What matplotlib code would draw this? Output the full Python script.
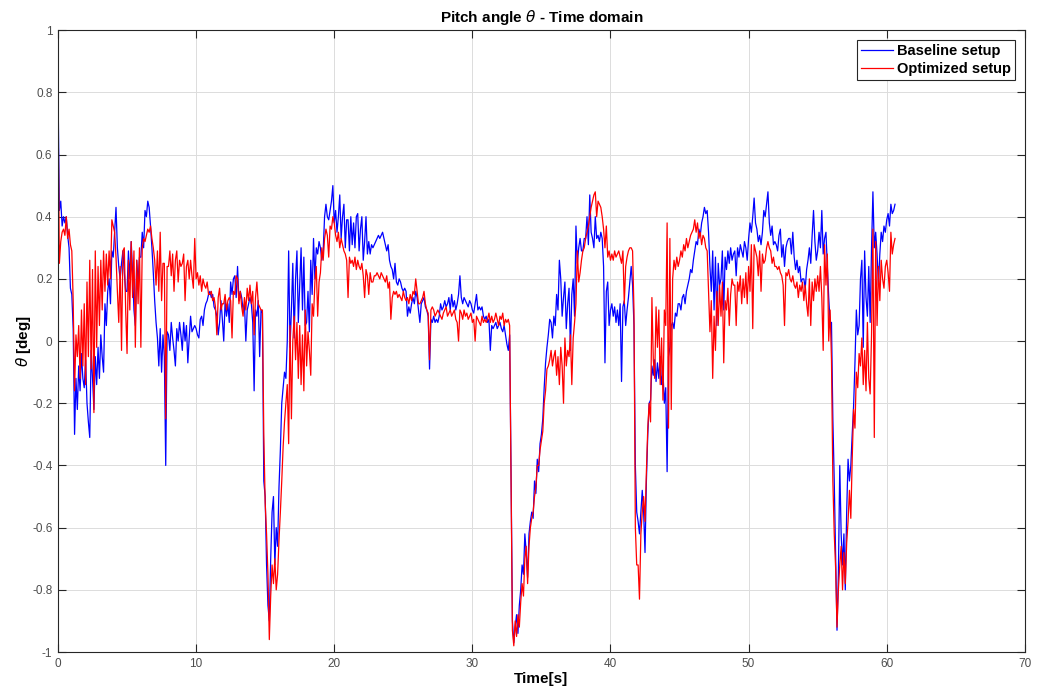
import numpy as np
import matplotlib
matplotlib.use("Agg")
import matplotlib.pyplot as plt

plt.rcParams['font.family'] = ['Liberation Sans', 'DejaVu Sans']

dt = 0.1  # sample time [s]

# pitch angle [deg], baseline setup, one row per second
baseline = [
    0.82, 0.42, 0.45, 0.37, 0.40, 0.38, 0.40, 0.34, 0.30, 0.17,
    0.15, 0.04, -0.30, -0.12, -0.22, -0.08, -0.16, -0.04, -0.12, -0.15,
    -0.06, -0.20, -0.26, -0.31, -0.03, -0.12, -0.22, -0.05, -0.14, -0.02,
    -0.12, 0.02, -0.05, -0.10, 0.12, 0.05, 0.16, 0.20, 0.12, 0.29,
    0.27, 0.35, 0.43, 0.30, 0.24, 0.20, 0.25, 0.29, 0.22, 0.16,
    0.16, 0.29, 0.20, 0.32, 0.22, 0.10, 0.05, 0.26, 0.19, 0.27,
    0.27, 0.35, 0.30, 0.42, 0.40, 0.45, 0.43, 0.37, 0.30, 0.22,
    0.13, 0.06, 0.01, -0.08, 0.04, -0.10, 0.02, -0.05, -0.40, 0.03,
    0.02, -0.03, 0.06, 0.01, -0.03, -0.08, 0.04, 0.00, 0.06, 0.02,
    -0.03, 0.06, 0.00, 0.05, -0.07, 0.01, 0.08, 0.03, 0.04, 0.05,
    0.04, 0.02, 0.01, 0.07, 0.08, 0.05, 0.10, 0.12, 0.13, 0.15,
    0.16, 0.14, 0.15, 0.11, 0.10, 0.08, 0.02, 0.06, 0.13, 0.07,
    0.00, 0.13, 0.08, 0.12, 0.06, 0.19, 0.15, 0.20, 0.21, 0.14,
    0.24, 0.13, 0.16, 0.14, 0.10, 0.12, 0.00, 0.10, 0.12, 0.14,
    0.12, 0.06, -0.16, 0.10, 0.08, 0.13, -0.05, 0.10, 0.09, -0.45,
    -0.50, -0.72, -0.85, -0.90, -0.70, -0.55, -0.50, -0.72, -0.60, -0.66,
    -0.47, -0.35, -0.20, -0.15, -0.10, -0.12, 0.00, 0.29, -0.02, 0.10,
    0.25, 0.01, 0.20, 0.29, 0.06, 0.18, 0.30, 0.10, 0.27, 0.05,
    0.06, 0.16, 0.03, 0.26, 0.15, 0.33, 0.20, 0.30, 0.28, 0.32,
    0.30, 0.26, 0.29, 0.40, 0.44, 0.40, 0.39, 0.42, 0.45, 0.50,
    0.38, 0.42, 0.35, 0.40, 0.47, 0.33, 0.40, 0.44, 0.30, 0.39,
    0.39, 0.29, 0.40, 0.31, 0.38, 0.30, 0.40, 0.41, 0.29, 0.36,
    0.40, 0.26, 0.32, 0.40, 0.28, 0.32, 0.28, 0.31, 0.30, 0.31,
    0.32, 0.33, 0.34, 0.33, 0.34, 0.35, 0.33, 0.31, 0.29, 0.31,
    0.26, 0.24, 0.23, 0.20, 0.25, 0.19, 0.18, 0.20, 0.19, 0.17,
    0.16, 0.17, 0.16, 0.08, 0.11, 0.09, 0.12, 0.14, 0.12, 0.16,
    0.14, 0.10, 0.06, 0.12, 0.13, 0.14, 0.11, 0.10, 0.08, -0.09,
    0.07, 0.06, 0.08, 0.06, 0.07, 0.06, 0.08, 0.12, 0.10, 0.11,
    0.13, 0.11, 0.12, 0.14, 0.10, 0.15, 0.11, 0.13, 0.10, 0.12,
    0.15, 0.21, 0.14, 0.12, 0.14, 0.13, 0.12, 0.11, 0.13, 0.12,
    0.10, 0.09, 0.12, 0.15, 0.10, 0.11, 0.10, 0.11, 0.08, 0.07,
    0.08, 0.06, 0.07, -0.03, 0.05, 0.04, 0.05, 0.06, 0.04, 0.05,
    0.06, 0.04, 0.03, 0.05, 0.02, -0.01, -0.03, 0.02, -0.42, -0.90,
    -0.97, -0.92, -0.88, -0.94, -0.85, -0.80, -0.72, -0.75, -0.62, -0.68,
    -0.76, -0.62, -0.58, -0.55, -0.57, -0.45, -0.49, -0.38, -0.42, -0.33,
    -0.30, -0.25, -0.15, -0.07, -0.02, 0.02, 0.07, 0.06, 0.01, 0.08,
    0.05, 0.15, 0.10, 0.26, 0.20, 0.08, 0.14, 0.19, 0.04, 0.12,
    0.17, -0.03, 0.15, 0.20, 0.08, 0.37, 0.25, 0.30, 0.33, 0.29,
    0.29, 0.33, 0.33, 0.40, 0.31, 0.47, 0.35, 0.33, 0.30, 0.40,
    0.33, 0.34, 0.32, 0.35, 0.33, 0.24, -0.07, 0.16, 0.19, 0.05,
    0.10, 0.12, 0.08, 0.11, 0.06, 0.10, 0.05, 0.12, -0.13, 0.11,
    0.13, 0.05, 0.10, 0.14, 0.19, 0.24, 0.18, 0.05, -0.40, -0.55,
    -0.58, -0.62, -0.55, -0.48, -0.55, -0.68, -0.45, -0.30, -0.20, -0.19,
    -0.08, -0.11, -0.06, -0.13, -0.07, -0.12, -0.05, -0.14, -0.10, -0.20,
    -0.15, -0.42, -0.05, -0.02, 0.05, 0.06, 0.04, 0.09, 0.08, 0.12,
    0.12, 0.10, 0.14, 0.15, 0.12, 0.16, 0.18, 0.20, 0.23, 0.22,
    0.26, 0.29, 0.32, 0.31, 0.36, 0.34, 0.38, 0.40, 0.43, 0.41,
    0.42, 0.35, 0.24, 0.16, 0.29, 0.10, 0.27, 0.05, 0.25, 0.18,
    0.20, 0.29, 0.10, 0.27, 0.23, 0.29, 0.25, 0.30, 0.26, 0.28,
    0.29, 0.21, 0.30, 0.27, 0.31, 0.29, 0.27, 0.32, 0.30, 0.26,
    0.33, 0.38, 0.35, 0.40, 0.46, 0.38, 0.36, 0.32, 0.34, 0.31,
    0.35, 0.42, 0.40, 0.44, 0.48, 0.38, 0.34, 0.37, 0.31, 0.32,
    0.31, 0.29, 0.34, 0.36, 0.27, 0.31, 0.24, 0.30, 0.32, 0.33,
    0.33, 0.28, 0.35, 0.27, 0.23, 0.26, 0.22, 0.24, 0.19, 0.20,
    0.20, 0.17, 0.23, 0.26, 0.30, 0.25, 0.34, 0.42, 0.32, 0.26,
    0.29, 0.35, 0.30, 0.42, 0.28, 0.33, 0.35, 0.24, 0.14, 0.06,
    0.06, -0.25, -0.45, -0.70, -0.93, -0.75, -0.40, -0.62, -0.72, -0.62,
    -0.80, -0.55, -0.38, -0.45, -0.40, -0.30, -0.21, -0.07, 0.10, 0.02,
    0.05, 0.20, 0.26, -0.02, 0.29, 0.14, 0.08, 0.24, 0.06, 0.30,
    0.48, 0.30, 0.35, 0.28, 0.18, 0.28, 0.35, 0.32, 0.37, 0.35,
    0.39, 0.41, 0.37, 0.44, 0.41, 0.42, 0.44,
]

# pitch angle [deg], optimized setup
optimized = [
    0.77, 0.25, 0.32, 0.35, 0.36, 0.34, 0.40, 0.33, 0.36, 0.31,
    0.29, 0.13, -0.16, 0.02, -0.05, 0.05, -0.12, 0.10, -0.08, 0.12,
    -0.14, 0.19, -0.05, 0.26, -0.09, 0.23, -0.23, 0.29, -0.02, 0.24,
    0.05, 0.26, 0.10, 0.29, 0.16, 0.28, 0.18, 0.29, 0.20, 0.39,
    0.37, 0.35, 0.27, 0.16, 0.06, 0.24, -0.03, 0.29, 0.30, 0.10,
    -0.04, 0.26, 0.10, 0.32, 0.14, 0.29, -0.02, 0.26, 0.12, 0.30,
    -0.02, 0.30, 0.33, 0.32, 0.34, 0.36, 0.35, 0.37, 0.33, 0.30,
    0.26, 0.18, 0.29, 0.16, 0.35, 0.13, 0.25, 0.25, -0.25, 0.24,
    0.24, 0.29, 0.21, 0.28, 0.16, 0.26, 0.29, 0.19, 0.26, 0.24,
    0.25, 0.28, 0.13, 0.24, 0.26, 0.20, 0.26, 0.21, 0.17, 0.33,
    0.20, 0.22, 0.18, 0.21, 0.16, 0.20, 0.18, 0.17, 0.19, 0.15,
    0.15, 0.16, 0.13, 0.14, 0.11, 0.02, 0.14, 0.17, 0.10, 0.12,
    0.12, 0.15, 0.10, 0.13, 0.14, 0.13, 0.01, 0.16, 0.15, 0.21,
    0.20, 0.12, 0.16, 0.11, 0.08, 0.14, 0.10, 0.17, 0.13, 0.18,
    0.12, 0.16, 0.02, 0.14, 0.19, 0.12, 0.11, 0.10, 0.10, -0.30,
    -0.52, -0.62, -0.75, -0.96, -0.82, -0.72, -0.78, -0.70, -0.80, -0.75,
    -0.64, -0.55, -0.45, -0.34, -0.26, -0.20, -0.14, -0.33, 0.05, -0.25,
    0.00, 0.08, -0.06, 0.06, -0.12, 0.05, -0.14, 0.02, -0.16, 0.10,
    -0.08, 0.03, -0.03, -0.11, 0.12, 0.08, 0.19, 0.24, 0.08, 0.19,
    0.22, 0.30, 0.26, 0.33, 0.36, 0.34, 0.27, 0.37, 0.36, 0.40,
    0.38, 0.34, 0.32, 0.35, 0.30, 0.33, 0.31, 0.29, 0.28, 0.26,
    0.14, 0.27, 0.25, 0.26, 0.24, 0.27, 0.23, 0.26, 0.24, 0.23,
    0.25, 0.21, 0.14, 0.23, 0.21, 0.15, 0.22, 0.19, 0.19, 0.21,
    0.21, 0.22, 0.21, 0.20, 0.22, 0.21, 0.20, 0.19, 0.21, 0.17,
    0.19, 0.07, 0.14, 0.16, 0.15, 0.16, 0.14, 0.15, 0.14, 0.13,
    0.16, 0.14, 0.13, 0.14, 0.12, 0.15, 0.13, 0.16, 0.15, 0.20,
    0.16, 0.12, 0.12, 0.13, 0.14, 0.16, 0.12, 0.10, 0.09, -0.06,
    0.10, 0.11, 0.10, 0.08, 0.09, 0.10, 0.09, 0.08, 0.07, 0.09,
    0.10, 0.11, 0.08, 0.09, 0.10, 0.08, 0.09, 0.10, 0.07, 0.06,
    0.00, 0.10, 0.09, 0.07, 0.10, 0.08, 0.09, 0.07, 0.08, 0.09,
    0.06, 0.07, 0.00, 0.08, 0.07, 0.06, 0.05, 0.08, 0.06, 0.07,
    0.06, 0.07, 0.09, 0.06, 0.08, 0.06, 0.07, 0.09, 0.07, 0.05,
    0.08, 0.07, 0.09, 0.05, 0.07, 0.06, 0.07, 0.05, -0.45, -0.93,
    -0.98, -0.90, -0.95, -0.88, -0.92, -0.84, -0.78, -0.82, -0.70, -0.66,
    -0.78, -0.66, -0.60, -0.57, -0.55, -0.50, -0.47, -0.40, -0.40, -0.35,
    -0.32, -0.29, -0.20, -0.16, -0.09, -0.08, -0.06, -0.03, -0.08, -0.05,
    -0.03, -0.11, -0.05, -0.14, -0.02, -0.08, -0.20, 0.01, -0.08, -0.03,
    -0.05, 0.02, -0.14, 0.01, 0.06, 0.12, 0.29, 0.19, 0.22, 0.26,
    0.29, 0.30, 0.33, 0.35, 0.37, 0.40, 0.43, 0.45, 0.47, 0.48,
    0.40, 0.45, 0.44, 0.43, 0.40, 0.36, 0.30, 0.37, 0.27, 0.29,
    0.26, 0.28, 0.26, 0.29, 0.27, 0.28, 0.29, 0.27, 0.25, 0.29,
    0.12, 0.24, 0.27, 0.29, 0.30, 0.30, 0.29, 0.10, -0.60, -0.72,
    -0.72, -0.83, -0.62, -0.55, -0.50, -0.58, -0.42, -0.28, -0.20, -0.26,
    0.14, -0.06, -0.12, 0.11, -0.02, 0.10, -0.14, 0.01, -0.19, 0.10,
    0.05, 0.38, -0.28, 0.33, -0.22, 0.20, 0.26, 0.23, 0.27, 0.24,
    0.26, 0.29, 0.27, 0.31, 0.29, 0.33, 0.30, 0.32, 0.34, 0.35,
    0.36, 0.39, 0.35, 0.38, 0.33, 0.35, 0.31, 0.34, 0.33, 0.30,
    0.29, 0.16, 0.03, 0.13, -0.12, 0.08, -0.03, 0.16, 0.05, 0.18,
    0.08, 0.19, -0.07, 0.13, 0.10, 0.17, 0.05, 0.15, 0.20, 0.18,
    0.18, 0.05, 0.19, 0.16, 0.21, 0.12, 0.20, 0.14, 0.22, 0.12,
    0.24, 0.16, 0.31, 0.04, 0.31, 0.29, 0.27, 0.21, 0.29, 0.16,
    0.28, 0.25, 0.26, 0.30, 0.32, 0.30, 0.29, 0.25, 0.27, 0.24,
    0.24, 0.23, 0.24, 0.22, 0.21, 0.18, 0.05, 0.22, 0.21, 0.23,
    0.20, 0.19, 0.21, 0.18, 0.17, 0.19, 0.14, 0.18, 0.16, 0.19,
    0.13, 0.18, 0.12, 0.08, 0.20, 0.05, 0.19, 0.13, 0.20, 0.16,
    0.21, 0.16, 0.24, 0.14, -0.03, 0.31, 0.18, 0.28, 0.00, 0.10,
    -0.06, -0.45, -0.62, -0.73, -0.92, -0.80, -0.72, -0.66, -0.80, -0.68,
    -0.78, -0.65, -0.58, -0.48, -0.57, -0.38, -0.22, -0.28, -0.10, -0.15,
    -0.04, -0.08, 0.01, -0.14, -0.03, -0.16, 0.06, -0.12, -0.17, 0.02,
    0.36, -0.31, 0.32, 0.05, 0.24, 0.13, 0.26, 0.20, 0.17, 0.24,
    0.26, 0.22, 0.16, 0.35, 0.28, 0.31, 0.33,
]

series_labels = ["Baseline setup", "Optimized setup"]
x_ticks = [0, 10, 20, 30, 40, 50, 60, 70]
y_ticks = [-1, -0.8, -0.6, -0.4, -0.2, 0, 0.2, 0.4, 0.6, 0.8, 1]

t_base = np.arange(len(baseline)) * dt
t_opt = np.arange(len(optimized)) * dt

fig = plt.figure(figsize=(10.43, 6.91), dpi=100)
ax = fig.add_axes([0.0556, 0.0564, 0.927, 0.900])

ax.plot(t_base, baseline, color=(0, 0, 1), lw=0.9, label=series_labels[0])
ax.plot(t_opt, optimized, color=(1, 0, 0), lw=0.9, label=series_labels[1])

ax.set_xlim(0, 70)
ax.set_ylim(-1, 1)
ax.set_xticks(x_ticks)
ax.set_yticks(y_ticks)
ax.set_xticklabels([str(v) for v in x_ticks])
ax.set_yticklabels(['%g' % v for v in y_ticks])
ax.grid(True, color='#dcdcdc', lw=0.7)
ax.set_axisbelow(True)
ax.tick_params(direction='in', top=True, right=True, length=6, width=0.8,
               labelsize=8.5, labelcolor='#4d4d4d', color='#262626', pad=4)
for s in ax.spines.values():
    s.set_color('#262626')
    s.set_linewidth(0.8)

ax.set_title(r'Pitch angle $\theta$ - Time domain', fontsize=11, fontweight='bold', pad=6)
ax.set_xlabel('Time[s]', fontsize=11, fontweight='bold', labelpad=2)
ax.set_ylabel(r'$\theta$ [deg]', fontsize=11, fontweight='bold', labelpad=-1)

leg = ax.legend(loc='upper right', fancybox=False, framealpha=1, edgecolor='#262626',
                prop={'weight': 'bold', 'size': 10.5}, handlelength=2.2,
                handletextpad=0.3, labelspacing=0.3, borderpad=0.25, borderaxespad=0.7)
leg.get_frame().set_linewidth(0.8)

fig.savefig('out.png', dpi=100)
